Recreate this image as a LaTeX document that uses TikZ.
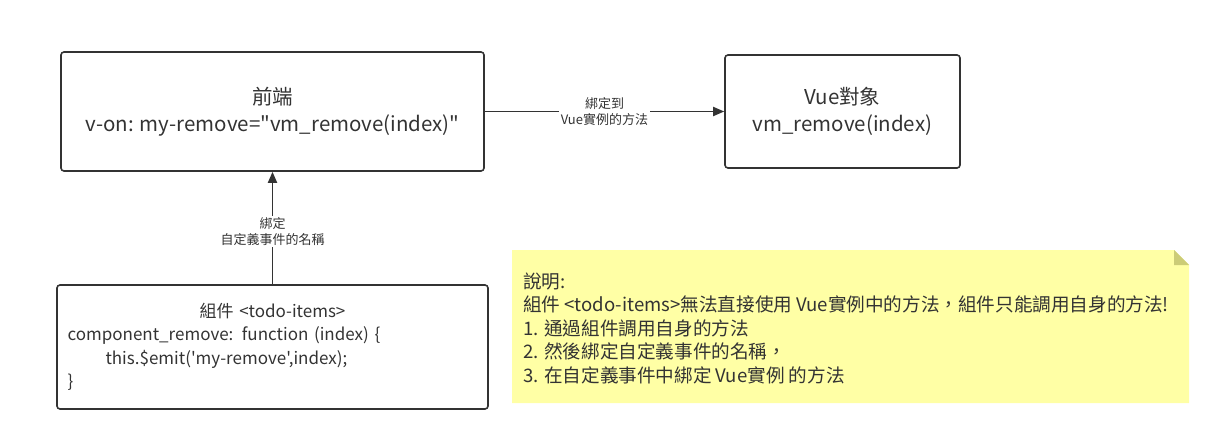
\documentclass[tikz,border=0pt]{standalone}
\usepackage{fontspec}
\newfontfamily\cjk{Noto Sans CJK TC}
\usetikzlibrary{arrows.meta}
\definecolor{ink}{HTML}{333333}
\definecolor{notefill}{HTML}{FFFFA5}
\definecolor{foldfill}{HTML}{CCCC77}
\begin{document}
\begin{tikzpicture}[x=1pt,y=-1pt,
  font=\cjk\fontsize{17}{23.5}\selectfont,
  box/.style={draw=ink, line width=1.6pt, rounded corners=3pt, text=ink, inner sep=0pt},
  big/.style={font=\cjk\fontsize{20.5}{27}\selectfont},
  conn/.style={draw=ink, line width=1.8pt, -{Triangle[length=11pt,width=9pt]}},
  lbl/.style={fill=white, text=ink, font=\cjk\fontsize{13}{16}\selectfont, align=center, inner sep=1.5pt}]
\useasboundingbox (0,0) rectangle (1211,436);

\node[box, big, minimum width=423, minimum height=119, align=center] (A) at (272.5,111.5)
  {前端\\v-on: my-remove="vm\_remove(index)"};
\node[box, big, minimum width=235, minimum height=113, align=center] (B) at (842.5,111.5)
  {Vue對象\\vm\_remove(index)};
\node[box, minimum width=431, minimum height=124] (C) at (272.5,347) {};
\node[text=ink, text width=410, align=left, anchor=center] (Ctext) at (C.center)
  {\makebox[\linewidth]{組件 <todo-items>}\\
   component\_remove: function (index) \{\\
   \hspace*{38pt}this.\$emit('my-remove',index);\\
   \}};

\draw[conn] (A.east) -- (B.west)
  node[lbl, pos=0.5] (l1) {綁定到\\Vue實例的方法};
\draw[conn] (C.north) -- (A.south)
  node[lbl, pos=0.47] (l2) {綁定\\自定義事件的名稱};

\coordinate (n1) at (512,250);
\coordinate (n2) at (1174,250);
\coordinate (n3) at (1189,265);
\coordinate (n4) at (1189,403);
\coordinate (n5) at (512,403);
\coordinate (n6) at (1174,265);
\fill[notefill] (n1) -- (n2) -- (n3) -- (n4) -- (n5) -- cycle;
\fill[foldfill] (n2) -- (n6) -- (n3) -- cycle;
\node[text=ink, anchor=west, align=left, inner sep=0pt,
  font=\cjk\fontsize{18.6}{23.5}\selectfont] (note) at (523,328)
  {說明:\\
   組件 <todo-items>無法直接使用 Vue實例中的方法，組件只能調用自身的方法!\\
   1. 通過組件調用自身的方法\\
   2. 然後綁定自定義事件的名稱，\\
   3. 在自定義事件中綁定 Vue實例 的方法};
\end{tikzpicture}
\end{document}
